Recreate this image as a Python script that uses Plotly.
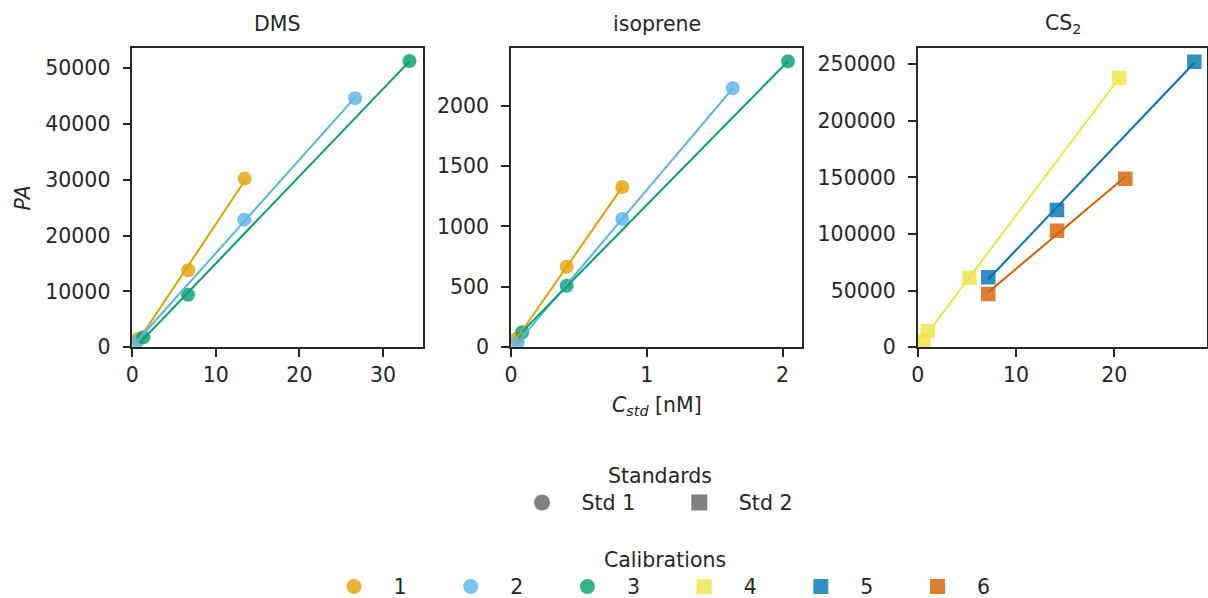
import numpy as np
import plotly.graph_objects as go

W, H = 1208, 598

# ---------------- data ----------------
panels = ["DMS", "isoprene", "CS<sub>2</sub>"]

dms_c1_x = [0.67, 6.7, 13.45]
dms_c1_y = [1500, 13800, 30200]
dms_c2_x = [0.6, 13.4, 26.67]
dms_c2_y = [1000, 22850, 44600]
dms_c3_x = [1.32, 6.67, 33.17]
dms_c3_y = [1790, 9420, 51250]

iso_c1_x = [0.041, 0.41, 0.82]
iso_c1_y = [70, 667, 1327]
iso_c2_x = [0.05, 0.82, 1.633]
iso_c2_y = [41, 1062, 2144]
iso_c3_x = [0.083, 0.41, 2.04]
iso_c3_y = [124, 510, 2367]

cs2_c4_x = [0.57, 1.02, 5.25, 20.5]
cs2_c4_y = [5800, 14400, 61400, 237600]
cs2_c5_x = [7.18, 14.17, 28.14]
cs2_c5_y = [61800, 121200, 252000]
cs2_c6_x = [7.18, 14.17, 21.12]
cs2_c6_y = [47000, 102900, 148800]

calibrations = ["1", "2", "3", "4", "5", "6"]
cal_symbols = ["circle", "circle", "circle", "square", "square", "square"]
cal_colors = ["#E69F00", "#56B4E9", "#009E73", "#F0E442", "#0072B2", "#D55E00"]
standards = ["Std 1", "Std 2"]
std_symbols = ["circle", "square"]

# (panel index, calibration index, x, y)
series = [
    (0, 0, dms_c1_x, dms_c1_y),
    (0, 1, dms_c2_x, dms_c2_y),
    (0, 2, dms_c3_x, dms_c3_y),
    (1, 0, iso_c1_x, iso_c1_y),
    (1, 1, iso_c2_x, iso_c2_y),
    (1, 2, iso_c3_x, iso_c3_y),
    (2, 3, cs2_c4_x, cs2_c4_y),
    (2, 4, cs2_c5_x, cs2_c5_y),
    (2, 5, cs2_c6_x, cs2_c6_y),
]

# ---------------- layout geometry ----------------
xdom_px = [(132.3, 422.7), (511.0, 802.0), (917.7, 1207.3)]
ydom_px = (47.7, 347.3)
xranges = [[0, 34.76], [0, 2.143], [0, 29.46]]
yranges = [[0, 53630], [0, 2480], [0, 264400]]
ytickvals = [list(range(0, 50001, 10000)), list(range(0, 2001, 500)), list(range(0, 250001, 50000))]
xtickvals = [[0, 10, 20, 30], [0, 1, 2], [0, 10, 20]]

FONT = "DejaVu Sans"
TXT = "#262626"
FS = 20.5

NB = "\u00a0"
fig = go.Figure()

axn = ["", "2", "3"]
# markers
for p, c, xs, ys in series:
    sym = cal_symbols[c]
    size = 14 if sym == "circle" else 14.5
    fig.add_trace(go.Scatter(
        x=xs, y=ys, mode="markers",
        xaxis="x" + axn[p], yaxis="y" + axn[p],
        marker=dict(symbol=sym, size=size, color=cal_colors[c], opacity=0.8, line=dict(width=0)),
        showlegend=False, hoverinfo="skip",
    ))
# fit lines
for p, c, xs, ys in series:
    k, b = np.polyfit(xs, ys, 1)
    lx = [min(xs), max(xs)]
    ly = [k * v + b for v in lx]
    fig.add_trace(go.Scatter(
        x=lx, y=ly, mode="lines",
        xaxis="x" + axn[p], yaxis="y" + axn[p],
        line=dict(color=cal_colors[c], width=2),
        showlegend=False, hoverinfo="skip",
    ))

# standards legend (marker style only)
for i, s in enumerate(standards):
    fig.add_trace(go.Scatter(
        x=[None], y=[None], mode="markers",
        marker=dict(symbol=std_symbols[i], size=16, color="#808080"),
        name=NB * 3 + s + (NB * 6 if i < len(standards) - 1 else ""),
        legend="legend", showlegend=True,
    ))
# calibrations legend
for c, lab in enumerate(calibrations):
    fig.add_trace(go.Scatter(
        x=[None], y=[None], mode="markers",
        marker=dict(symbol=cal_symbols[c], size=15, color=cal_colors[c], opacity=0.8),
        name=NB * 3 + lab + (NB * 6 if c < len(calibrations) - 1 else ""),
        legend="legend2", showlegend=True,
    ))

layout = dict(
    width=W, height=H,
    margin=dict(l=0, r=0, t=0, b=0, autoexpand=False),
    paper_bgcolor="white", plot_bgcolor="white",
    font=dict(family=FONT, size=FS, color=TXT),
    annotations=[],
)

for i in range(3):
    xd = [xdom_px[i][0] / W, xdom_px[i][1] / W]
    yd = [1 - ydom_px[1] / H, 1 - ydom_px[0] / H]
    common = dict(
        showline=True, linecolor=TXT, linewidth=1.5, mirror=True,
        ticks="outside", ticklen=8, tickwidth=1.5, tickcolor=TXT,
        showgrid=False, zeroline=False, automargin=False,
        tickfont=dict(family=FONT, size=FS, color=TXT),
    )
    layout["xaxis" + axn[i]] = dict(
        domain=xd, range=xranges[i], tickvals=xtickvals[i],
        anchor="y" + axn[i], **common)
    layout["yaxis" + axn[i]] = dict(
        domain=yd, range=yranges[i], tickvals=ytickvals[i], tickformat="d",
        anchor="x" + axn[i], ticklabelstandoff=8, **common)
    layout["annotations"].append(dict(
        text=panels[i], x=(xd[0] + xd[1]) / 2, y=1 - 24 / H,
        xref="paper", yref="paper", showarrow=False,
        xanchor="center", yanchor="middle",
        font=dict(family=FONT, size=FS, color=TXT)))

layout["annotations"].append(dict(
    text="<i>PA</i>", x=22.5 / W, y=1 - 198 / H, xref="paper", yref="paper",
    xanchor="center", yanchor="middle",
    showarrow=False, textangle=-90, font=dict(family=FONT, size=FS, color=TXT)))
layout["annotations"].append(dict(
    text="<i>C</i><sub><i>std</i></sub> [nM]", x=656.5 / W, y=1 - 406 / H,
    xref="paper", yref="paper", showarrow=False, xanchor="center", yanchor="middle",
    font=dict(family=FONT, size=FS, color=TXT)))

layout["legend"] = dict(
    orientation="h", x=522 / W, xanchor="left", y=1 - 456 / H, yanchor="top",
    title=dict(text="Standards", side="top center", font=dict(family=FONT, size=FS, color=TXT)),
    font=dict(family=FONT, size=FS, color=TXT), bgcolor="rgba(0,0,0,0)",
)
layout["legend2"] = dict(
    orientation="h", x=334 / W, xanchor="left", y=1 - 540 / H, yanchor="top",
    title=dict(text="Calibrations", side="top center", font=dict(family=FONT, size=FS, color=TXT)),
    font=dict(family=FONT, size=FS, color=TXT), bgcolor="rgba(0,0,0,0)",
)

fig.update_layout(**layout)
fig.write_html("out.html")
